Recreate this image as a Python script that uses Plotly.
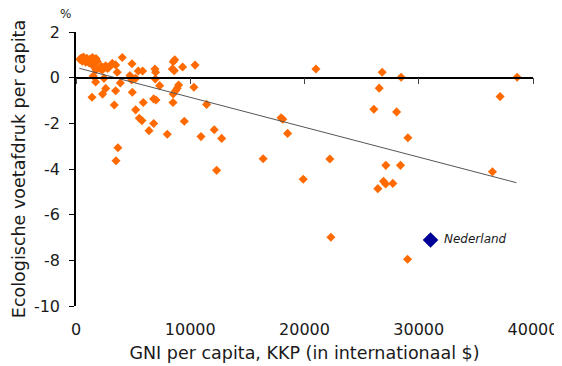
import plotly.graph_objects as go

# GNI per capita (PPP, international $) and change of ecological footprint per capita (%)
gni = [
    350, 450, 550, 650, 750, 850, 950, 1050, 1150, 1250, 1350, 1450, 1550, 1650, 1750, 1850,
    1450, 1650, 1750, 2100, 2200, 2300, 2450, 2600, 2750, 2900,
    3180, 3470, 4050, 4900, 3610, 5450, 5830, 4720, 4870, 5220,
    6910, 6970, 6940, 7320, 8510, 8640, 8430, 8600, 9330, 10420,
    8980, 8860, 8720, 8510, 10320, 8490,
    1510, 1720, 2450, 1400, 2330, 2600, 3470, 3350, 3880, 4930,
    5890, 5220, 5540, 5770, 6390, 6800, 6800, 7000, 7990, 9480, 10940, 11430, 12100, 12750,
    3670, 3500, 12310, 16380,
    21000, 17950, 18100, 18520, 22220, 19890, 22310,
    26800, 28460, 38610, 26540, 37120, 26070, 28060, 29050, 27120, 28400, 36450,
    26920, 27100, 27730, 26420, 29020,
]
footprint = [
    0.80, 0.86, 0.72, 0.90, 0.80, 0.68, 0.85, 0.74, 0.64, 0.82, 0.70, 0.88, 0.76, 0.64, 0.84, 0.72,
    0.55, 0.46, 0.34, 0.40, 0.50, 0.34, 0.45, 0.52, 0.40, 0.46,
    0.63, 0.56, 0.88, 0.61, 0.24, 0.29, 0.29, 0.09, -0.10, -0.03,
    0.38, 0.24, -0.06, -0.35, 0.70, 0.78, 0.38, 0.31, 0.47, 0.55,
    -0.32, -0.46, -0.57, -0.71, -0.42, -1.09,
    0.07, -0.19, -0.03, -0.86, -0.72, -0.47, -0.57, -1.20, -0.23, -0.64,
    -1.09, -1.41, -1.78, -1.88, -2.32, -2.01, -0.93, -0.98, -2.48, -1.91, -2.58, -1.17, -2.28, -2.66,
    -3.07, -3.64, -4.06, -3.55,
    0.38, -1.76, -1.82, -2.44, -3.56, -4.45, -6.99,
    0.24, 0.02, 0.02, -0.46, -0.83, -1.38, -1.50, -2.63, -3.84, -3.84, -4.12,
    -4.54, -4.66, -4.63, -4.86, -7.95,
]

nl_gni = [31030]
nl_footprint = [-7.11]
nl_label = "Nederland"

trend_x = [290, 38550]
trend_y = [0.41, -4.60]

x_ticks = [0, 10000, 20000, 30000, 40000]
x_ticktext = ["0", "10000", "20000", "30000", "40000"]
y_ticks = [2, 0, -2, -4, -6, -8, -10]
y_ticktext = ["2", "0", "-2", "-4", "-6", "-8", "-10"]

FONT = "DejaVu Sans"
TXT = "#1a1a1a"

fig = go.Figure()
fig.add_trace(go.Scatter(
    x=trend_x, y=trend_y, mode="lines", xaxis="x2",
    line=dict(color="#555555", width=1), hoverinfo="skip",
))
fig.add_trace(go.Scatter(
    x=gni, y=footprint, mode="markers",
    marker=dict(symbol="diamond", size=7, color="#FF6A00"),
))
fig.add_trace(go.Scatter(
    x=nl_gni, y=nl_footprint, mode="markers",
    marker=dict(symbol="diamond", size=12, color="#000099"),
))
fig.add_annotation(
    x=nl_gni[0], y=nl_footprint[0], text=nl_label, showarrow=False,
    xanchor="left", xshift=11, yshift=1,
    font=dict(family=FONT, size=12, color=TXT, style="italic"),
)
fig.add_annotation(
    x=-0.022, y=1.0639, xref="paper", yref="paper", text="%", showarrow=False,
    xanchor="center", yanchor="middle", height=12, borderpad=0,
    font=dict(family=FONT, size=12, color=TXT),
)

zero_pos = (0 - y_ticks[-1]) / (y_ticks[0] - y_ticks[-1])

# the page body adds an 8px margin, so the figure is 8px smaller on each side
fig.update_layout(
    width=554, height=358,
    margin=dict(l=68, r=29, t=24, b=60, autoexpand=False),
    paper_bgcolor="white", plot_bgcolor="white",
    showlegend=False,
    font=dict(family=FONT, size=16, color=TXT),
    xaxis=dict(
        range=[0, 40000], tickvals=x_ticks, ticktext=x_ticktext,
        showline=False, showgrid=False, zeroline=False, ticks="",
        ticklabelstandoff=12, automargin=False,
        title=dict(text="GNI per capita, KKP (in internationaal $)", standoff=8,
                   font=dict(size=17.5)),
    ),
    xaxis2=dict(
        range=[0, 40000], tickvals=x_ticks, overlaying="x", anchor="free",
        position=zero_pos, showticklabels=False, showgrid=False, zeroline=False,
        showline=True, linecolor="black", linewidth=1.5, automargin=False,
        ticks="outside", ticklen=6, tickcolor="#444444", tickwidth=1,
    ),
    yaxis=dict(
        range=[-10, 2], tickvals=y_ticks, ticktext=y_ticktext,
        showline=True, linecolor="black", linewidth=1.5,
        ticks="outside", ticklen=5, tickcolor="black",
        showgrid=False, zeroline=False, ticklabelstandoff=6, automargin=False,
        title=dict(text="Ecologische voetafdruk per capita", standoff=4,
                   font=dict(size=17.5)),
    ),
)

fig.write_html("out.html")
